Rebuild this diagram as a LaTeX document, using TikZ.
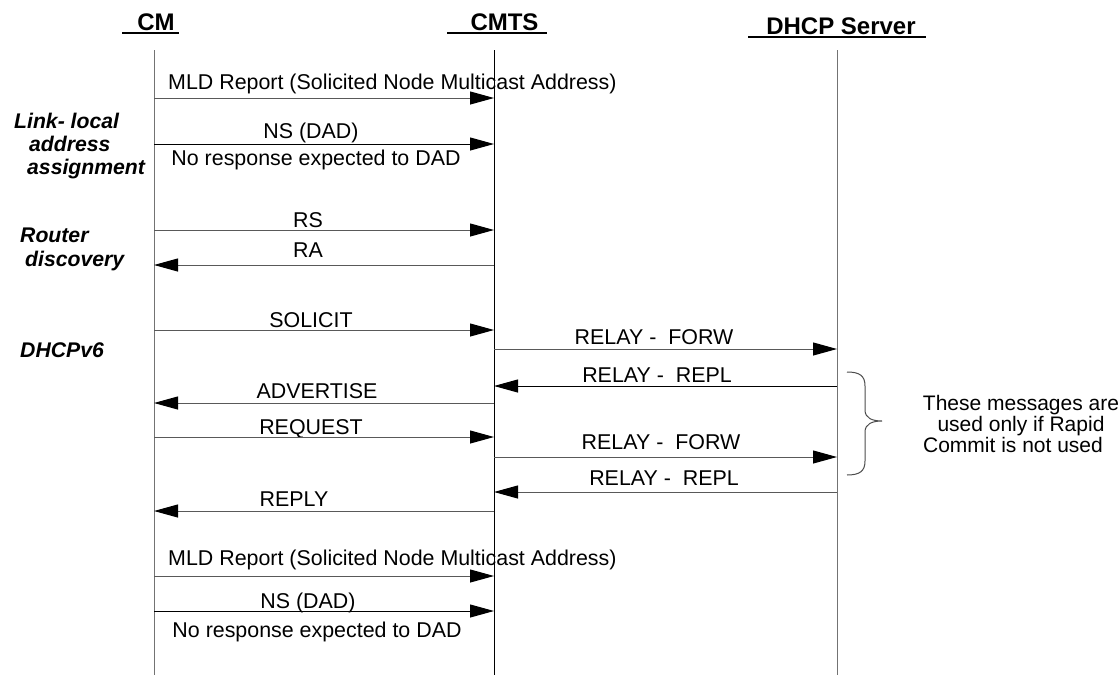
\documentclass[tikz,border=0pt]{standalone}
\usepackage{fontspec}
\setmainfont{Liberation Sans}
\usetikzlibrary{arrows.meta}

\begin{document}
\begin{tikzpicture}[x=1pt,y=-1pt,
    head/.style={font=\fontsize{24}{28}\selectfont\bfseries,inner sep=0pt,anchor=base},
    lbl/.style={font=\fontsize{21.4}{24}\selectfont,inner sep=0pt,anchor=base},
    phase/.style={font=\fontsize{21.2}{23}\selectfont\bfseries\itshape,inner sep=0pt,anchor=north west,align=left},
    note/.style={font=\fontsize{21}{21}\selectfont,inner sep=0pt,anchor=north,align=center},
    life/.style={line width=1pt,draw=black!55},
    msg/.style={line width=1pt,draw=black!65,-{Triangle[length=24pt,width=13pt,color=black]}},
    uline/.style={line width=2pt}]

\useasboundingbox (0,0) rectangle (1120,675);

% headers
\node[head] (cmh) at (156,30.5) {CM};
\node[head] (cmtsh) at (504.5,30.5) {CMTS};
\node[head] (dhcph) at (841,34) {DHCP Server};
\draw[uline] ([xshift=-15pt,yshift=-2.5pt]cmh.base west) -- ([xshift=4pt,yshift=-2.5pt]cmh.base east);
\draw[uline] ([xshift=-23pt,yshift=-2.5pt]cmtsh.base west) -- ([xshift=8pt,yshift=-2.5pt]cmtsh.base east);
\draw[uline] ([xshift=-18pt,yshift=-2.5pt]dhcph.base west) -- ([xshift=10pt,yshift=-2.5pt]dhcph.base east);

% lifelines
\coordinate (cm) at (154,50);
\coordinate (cmts) at (494,50);
\coordinate (dhcp) at (837,50);
\coordinate (cmend) at (154,675);
\coordinate (cmtsend) at (494,675);
\coordinate (dhcpend) at (837,675);
\draw[life] (cm) -- (cmend);
\draw[life,draw=black] (cmts) -- (cmtsend);
\draw[life] (dhcp) -- (dhcpend);

% phases
\node[phase] (linklocal) at (14,112.5) {Link- local\\\hspace{15pt}address\\\hspace{13pt}assignment};
\node[phase] (router) at (20,228) {Router\\[1pt]\hspace{5pt}discovery};
\node[phase] (dhcpv6) at (20,342) {DHCPv6};

% link-local address
\node[lbl,anchor=base west] (mld) at (168,89.5) {MLD Report (Solicited Node Multicast Address)};
\draw[msg] (cm |- 0,98) -- (cmts |- 0,98);
\node[lbl] (ns) at (311,138.5) {NS (DAD)};
\draw[msg,draw=black] (cm |- 0,144) -- (cmts |- 0,144);
\node[lbl] (nores) at (316,165) {No response expected to DAD};

% router discovery
\node[lbl] (rs) at (308,227) {RS};
\draw[msg] (cm |- 0,230) -- (cmts |- 0,230);
\node[lbl] (ra) at (308,257) {RA};
\draw[msg] (cmts |- 0,265) -- (cm |- 0,265);

% dhcpv6
\node[lbl] (solicit) at (311,327) {SOLICIT};
\draw[msg] (cm |- 0,330) -- (cmts |- 0,330);
\node[lbl] (forw) at (654,344) {RELAY -\ \ FORW};
\draw[msg] (cmts |- 0,349) -- (dhcp |- 0,349);
\node[lbl] (repl) at (657,382) {RELAY -\ \ REPL};
\draw[msg,draw=black] (dhcp |- 0,386) -- (cmts |- 0,386);
\node[lbl] (advertise) at (317,398) {ADVERTISE};
\draw[msg] (cmts |- 0,403) -- (cm |- 0,403);
\node[lbl] (request) at (311,434) {REQUEST};
\draw[msg] (cm |- 0,437) -- (cmts |- 0,437);
\node[lbl] (forwb) at (661,449) {RELAY -\ \ FORW};
\draw[msg] (cmts |- 0,457) -- (dhcp |- 0,457);
\node[lbl] (replb) at (664,485) {RELAY -\ \ REPL};
\draw[msg] (dhcp |- 0,492) -- (cmts |- 0,492);
\node[lbl] (reply) at (294,506) {REPLY};
\draw[msg] (cmts |- 0,511) -- (cm |- 0,511);

% global address
\node[lbl,anchor=base west] (mldb) at (168,565) {MLD Report (Solicited Node Multicast Address)};
\draw[msg] (cm |- 0,576) -- (cmts |- 0,576);
\node[lbl] (nsb) at (308,608) {NS (DAD)};
\draw[msg,draw=black] (cm |- 0,611) -- (cmts |- 0,611);
\node[lbl] (noresb) at (317,637) {No response expected to DAD};

% rapid commit note
\draw[line width=1pt,black!70] (847,372) .. controls (860,372) and (865,376) .. (865,386)
  -- (865,410) .. controls (865,418) and (872,421) .. (882,421)
  .. controls (872,421) and (865,424) .. (865,432)
  -- (865,461) .. controls (865,471) and (860,475) .. (847,475);
\node[note] (rapid) at (1021,395) {These messages are\\used only if Rapid\hspace*{16pt}\\Commit is not used\hspace*{16pt}};
\end{tikzpicture}
\end{document}
